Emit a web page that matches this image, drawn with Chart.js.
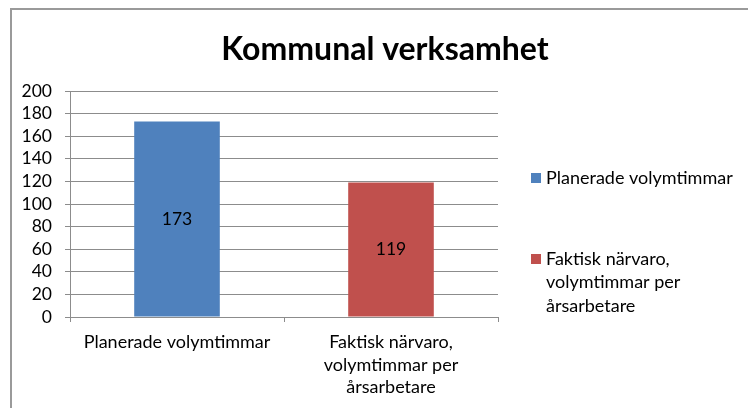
<!DOCTYPE html>
<html>
<head>
<meta charset="utf-8">
<script src="https://cdn.jsdelivr.net/npm/chart.js@4.4.0/dist/chart.umd.min.js"></script>
<style>
  body { margin: 0; background: #fff; }
  .wrap { position: relative; width: 748px; height: 408px; }
  .frame { position: absolute; left: 10px; top: 8px; width: 760px; height: 420px; border-left: 2px solid #9a9a9a; border-top: 2px solid #9a9a9a; }
  canvas { position: absolute; left: 0; top: 0; }
</style>
</head>
<body>
<div class="wrap">
  <div class="frame"></div>
  <canvas id="kommunChart" width="748" height="408"></canvas>
</div>
<script>
const chartTitle = 'Kommunal verksamhet';
const categories = [
    ['Planerade volymtimmar'],
    ['Faktisk närvaro,', 'volymtimmar per', 'årsarbetare']
];
const hours = [173, 119];
const barColors = ['#4F81BD', '#C0504D'];
const yTicks = [0, 20, 40, 60, 80, 100, 120, 140, 160, 180, 200];

const FONT = 'Lato, "Open Sans", sans-serif';

// values written in the middle of each bar
const valueLabels = {
    id: 'valueLabels',
    afterDatasetsDraw(chart) {
        const c = chart.ctx;
        const meta = chart.getDatasetMeta(0);
        c.save();
        c.font = '17.5px ' + FONT;
        c.fillStyle = '#000';
        c.textAlign = 'center';
        c.textBaseline = 'middle';
        meta.data.forEach((bar, i) => {
            c.fillText(String(hours[i]), bar.x, (bar.y + bar.base) / 2);
        });
        c.restore();
    }
};

// title + legend on the right, drawn by hand
const titleAndLegend = {
    id: 'titleAndLegend',
    afterDraw(chart) {
        const c = chart.ctx;
        c.save();
        c.fillStyle = '#000';
        c.font = 'bold 32px ' + FONT;
        c.textAlign = 'center';
        c.textBaseline = 'alphabetic';
        c.fillText(chartTitle, 385, 60);

        c.font = '18px ' + FONT;
        c.textAlign = 'left';
        c.textBaseline = 'middle';
        const starts = [178, 259];
        categories.forEach((lines, i) => {
            c.fillStyle = barColors[i];
            c.fillRect(531, starts[i] - 5, 10, 10);
            c.fillStyle = '#000';
            lines.forEach((ln, j) => {
                c.fillText(ln, 546, starts[i] + j * 23.5);
            });
        });
        c.restore();
    }
};

new Chart(document.getElementById('kommunChart'), {
    type: 'bar',
    data: {
        labels: categories,
        datasets: [{
            data: hours,
            backgroundColor: barColors,
            borderWidth: 0,
            barPercentage: 0.4,
            categoryPercentage: 1.0
        }]
    },
    options: {
        responsive: false,
        animation: false,
        layout: {
            padding: { left: 0, right: 250, top: 91, bottom: 0 }
        },
        scales: {
            y: {
                min: 0,
                max: 200,
                afterFit(scale) { scale.width = 70; },
                afterBuildTicks(scale) { scale.ticks = yTicks.map(v => ({ value: v })); },
                border: { color: '#8c8c8c', width: 1 },
                grid: { color: '#8c8c8c', lineWidth: 1, tickLength: 5 },
                ticks: { autoSkip: false, padding: 13, color: '#000', font: { family: FONT, size: 17.5, lineHeight: 1 } }
            },
            x: {
                afterFit(scale) { scale.height = 91; },
                border: { color: '#8c8c8c', width: 1 },
                grid: { drawOnChartArea: false, color: '#8c8c8c', tickLength: 5, offset: true },
                ticks: { padding: 9, color: '#000', maxRotation: 0, font: { family: FONT, size: 18, lineHeight: 1.25 } }
            }
        },
        plugins: {
            legend: { display: false },
            title: { display: false },
            tooltip: { enabled: false }
        }
    },
    plugins: [valueLabels, titleAndLegend]
});
</script>
</body>
</html>
